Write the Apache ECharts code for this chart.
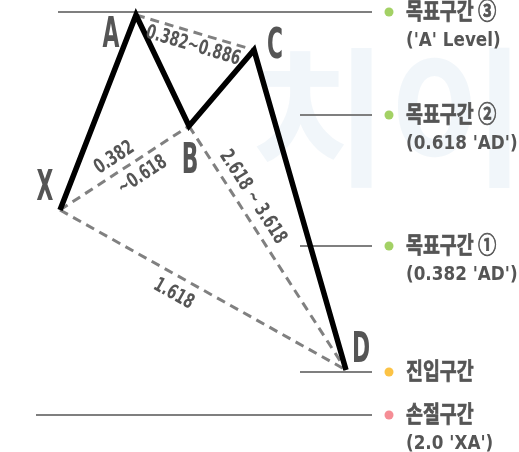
<!DOCTYPE html>
<html><head><meta charset="utf-8">
<script src="https://cdn.jsdelivr.net/npm/echarts@6/dist/echarts.min.js"></script>
<style>html,body{margin:0;padding:0;background:#fff}#c{width:519px;height:452px}</style>
</head><body><div id="c"></div>
<script>
// ---- data ----
const pointNames = ['X', 'A', 'B', 'C', 'D'];
const pointX = [60, 136, 189, 254, 346];
const pointY = [242, 437, 326, 402, 82];
const ratioPairs = [['X', 'B'], ['A', 'C'], ['B', 'D'], ['X', 'D']];
const ratioLabels = ['0.382\n~0.618', '0.382~0.886', '2.618 ~ 3.618', '1.618'];
const levelNames = ['목표구간 ③', '목표구간 ②', '목표구간 ①', '진입구간', '손절구간'];
const levelNotes = ["('A' Level)", "(0.618 'AD')", "(0.382 'AD')", '', "(2.0 'XA')"];
const levelValues = [440, 337, 206, 80, 37];
const levelFrom = [58, 300, 300, 300, 36];
const levelTo = [372, 372, 372, 372, 372];
const levelKinds = ['target', 'target', 'target', 'entry', 'stop'];

// ---- styles / layout ----
const KR = "'Noto Sans CJK KR', 'Noto Sans', sans-serif";
const LAT = "'DejaVu Sans', sans-serif";
const TXT = '#555555';
const kindColor = {target: '#8cc63e', entry: '#fbb416', stop: '#f2707a'};
const dotX = 389;
// per ratio label line: [t along segment, along offset px, perpendicular offset px]
const ratioPlace = [[[0.54, -9, -14], [0.54, 5, 16]], [[0.516, 0, 13.5]], [[0.325, 0, -15]], [[0.4275, 0, 18]]];
const pointLabelOffset = {X: [-15, -21], A: [-25, 21], B: [1, 36], C: [21, -3], D: [15, -19]};

const idx = n => pointNames.indexOf(n);
const series = [];
levelValues.forEach((v, i) => {
  series.push({type: 'line', symbol: 'none', silent: true, z: 1,
    lineStyle: {color: '#7f7f7f', width: 2},
    data: [[levelFrom[i], v], [levelTo[i], v]]});
});
ratioPairs.forEach(p => {
  const a = idx(p[0]), b = idx(p[1]);
  series.push({type: 'line', symbol: 'none', silent: true, z: 2,
    lineStyle: {color: '#808080', width: 3, type: [9, 6]},
    data: [[pointX[a], pointY[a]], [pointX[b], pointY[b]]]});
});
series.push({type: 'line', symbol: 'none', z: 5,
  lineStyle: {color: '#000', width: 5.5, join: 'miter', cap: 'butt'},
  data: pointNames.map((n, i) => [pointX[i], pointY[i]])});
series.push({type: 'scatter', symbol: 'circle', symbolSize: 9, z: 6,
  data: levelValues.map((v, i) => ({value: [dotX, v], itemStyle: {color: kindColor[levelKinds[i]]}}))});

const chart = echarts.init(document.getElementById('c'), null, {renderer: 'canvas'});
chart.setOption({
  animation: false,
  backgroundColor: '#fff',
  grid: {left: 0, right: 0, top: 0, bottom: 0},
  xAxis: {type: 'value', min: 0, max: 519, show: false},
  yAxis: {type: 'value', min: 0, max: 452, show: false},
  series: series
});

// ---- text placed through the axes ----
const px = (x, y) => chart.convertToPixel({gridIndex: 0}, [x, y]);
const g = [];
g.push({type: 'text', x: 250, y: 42, z: 0, silent: true,
  style: {text: '치이', fontSize: 150, fontFamily: KR, fontWeight: 'bold', fill: 'rgba(228,238,245,0.5)'}});
function txt(s, x, y, o) {
  g.push(Object.assign({type: 'text', x: x, y: y, z: 10, silent: true,
    style: Object.assign({text: s, align: 'center', verticalAlign: 'middle', fill: TXT,
      fontFamily: LAT, fontWeight: 'bold', fontSize: 19}, o.style || {})}, o.el || {}));
}
pointNames.forEach((n, i) => {
  const p = px(pointX[i], pointY[i]);
  txt(n, p[0] + pointLabelOffset[n][0], p[1] + pointLabelOffset[n][1],
    {style: {fontSize: 42}, el: {scaleX: 0.52}});
});
ratioPairs.forEach((pr, k) => {
  const a = px(pointX[idx(pr[0])], pointY[idx(pr[0])]);
  const b = px(pointX[idx(pr[1])], pointY[idx(pr[1])]);
  const dx = b[0] - a[0], dy = b[1] - a[1], L = Math.hypot(dx, dy);
  const u = [dx / L, dy / L], nrm = [-u[1], u[0]];
  const rot = -Math.atan2(dy, dx);
  ratioLabels[k].split('\n').forEach((line, j) => {
    const pl = ratioPlace[k][j];
    const cx = a[0] + dx * pl[0] + u[0] * pl[1] + nrm[0] * pl[2];
    const cy = a[1] + dy * pl[0] + u[1] * pl[1] + nrm[1] * pl[2];
    txt(line, cx, cy, {style: {fontSize: 20}, el: {rotation: rot, scaleX: 0.68}});
  });
});
levelValues.forEach((v, i) => {
  const p = px(dotX, v);
  g.push({type: 'text', x: p[0] + 17, y: p[1] - 2, z: 10, silent: true, scaleX: 0.8,
    style: {text: levelNames[i], align: 'left', verticalAlign: 'middle', fill: TXT,
      fontFamily: KR, fontWeight: 'bold', fontSize: 23, stroke: TXT, lineWidth: 0.7}});
  if (levelNotes[i]) {
    g.push({type: 'text', x: p[0] + 17, y: p[1] + 29, z: 10, silent: true, scaleX: 0.84,
      style: {text: levelNotes[i], align: 'left', verticalAlign: 'middle', fill: TXT,
        fontFamily: LAT, fontWeight: 'bold', fontSize: 20}});
  }
});
chart.setOption({graphic: g});
</script></body></html>
